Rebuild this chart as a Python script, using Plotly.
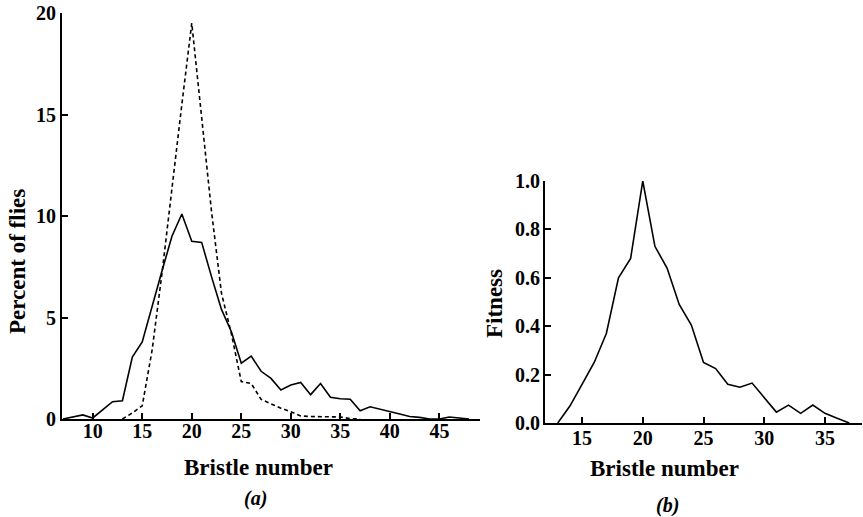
import plotly.graph_objects as go

# Panel (a): percent of flies vs bristle number
bristle_a = list(range(7, 49))
percent_solid = [0.0, 0.1, 0.2, 0.05, 0.45, 0.85, 0.9, 3.05, 3.8, 5.6, 7.3, 9.0, 10.1, 8.75, 8.7, 7.0,
                 5.4, 4.3, 2.75, 3.1, 2.35, 2.0, 1.43, 1.67, 1.8, 1.2, 1.75, 1.07, 1.0, 0.97, 0.41,
                 0.6, 0.49, 0.36, 0.25, 0.12, 0.08, 0.0, 0.0, 0.1, 0.05, 0.0]
bristle_a_dash = list(range(13, 38))
percent_dash = [0.0, 0.3, 0.65, 3.4, 7.2, 11.5, 15.5, 19.5, 15.0, 10.2, 6.2, 4.2, 1.84, 1.75,
                0.97, 0.74, 0.53, 0.36, 0.15, 0.12, 0.12, 0.1, 0.1, 0.02, 0.0]

# Panel (b): fitness vs bristle number
bristle_b = list(range(13, 38))
fitness = [0.0, 0.07, 0.16, 0.25, 0.37, 0.60, 0.68, 1.0, 0.73, 0.64, 0.49, 0.405, 0.25, 0.225,
           0.16, 0.148, 0.165, 0.107, 0.045, 0.074, 0.04, 0.074, 0.04, 0.02, 0.0]

xticks_a = [10, 15, 20, 25, 30, 35, 40, 45]
yticks_a = [0, 5, 10, 15, 20]
xticks_b = [15, 20, 25, 30, 35]
yticks_b = [0.0, 0.2, 0.4, 0.6, 0.8, 1.0]

W, H = 863, 517
FONT = "Liberation Serif"

fig = go.Figure()
fig.add_trace(go.Scatter(x=bristle_a, y=percent_solid, mode="lines",
                         line=dict(color="black", width=1.6), xaxis="x", yaxis="y"))
fig.add_trace(go.Scatter(x=bristle_a_dash, y=percent_dash, mode="lines",
                         line=dict(color="black", width=1.6, dash="4px,3px"), xaxis="x", yaxis="y"))
fig.add_trace(go.Scatter(x=bristle_b, y=fitness, mode="lines",
                         line=dict(color="black", width=1.6), xaxis="x2", yaxis="y2"))

tickfont = dict(family=FONT, size=20, color="black", weight="bold")
common = dict(showgrid=False, zeroline=False, showline=True, linecolor="black", linewidth=2,
              tickfont=tickfont, ticklen=6, tickwidth=1.5, tickcolor="black", automargin=False)

fig.update_layout(
    width=W, height=H,
    margin=dict(l=0, r=0, t=0, b=0, pad=0),
    paper_bgcolor="white", plot_bgcolor="white",
    showlegend=False,
    xaxis=dict(domain=[62 / W, 480 / W], range=[6.9, 49.1], tickvals=xticks_a,
               ticks="inside", anchor="y", ticklabelstandoff=-7, **common),
    yaxis=dict(domain=[(H - 419) / H, (H - 13) / H], range=[0, 20], tickvals=yticks_a,
               ticks="inside", anchor="x", ticklabelstandoff=0, **common),
    xaxis2=dict(domain=[545 / W, 862 / W], range=[11.95, 38.05], tickvals=xticks_b,
                ticks="inside", anchor="y2", ticklabelstandoff=-4, **common),
    yaxis2=dict(domain=[(H - 423) / H, (H - 181) / H], range=[0, 1.0], tickvals=yticks_b,
                tickformat=".1f", ticks="inside", anchor="x2", ticklabelstandoff=-1, **common),
)

titlefont = dict(family=FONT, size=23, color="black", weight="bold")
ann = [
    dict(text="Bristle number", x=258 / W, y=(H - 467) / H, font=titlefont),
    dict(text="Bristle number", x=664 / W, y=(H - 468) / H, font=titlefont),
    dict(text="Percent of flies", x=17 / W, y=(H - 262) / H, font=titlefont, textangle=-90),
    dict(text="Fitness", x=494 / W, y=(H - 303) / H, font=titlefont, textangle=-90),
    dict(text="<i>(a)</i>", x=255 / W, y=(H - 498) / H, font=dict(family=FONT, size=20, color="black", weight="bold")),
    dict(text="<i>(b)</i>", x=667 / W, y=(H - 505) / H, font=dict(family=FONT, size=20, color="black", weight="bold")),
]
for a in ann:
    fig.add_annotation(xref="paper", yref="paper", showarrow=False,
                       xanchor="center", yanchor="middle", **a)

fig.write_html("out.html", config={"displayModeBar": False},
               post_script="document.body.style.margin='0';")
